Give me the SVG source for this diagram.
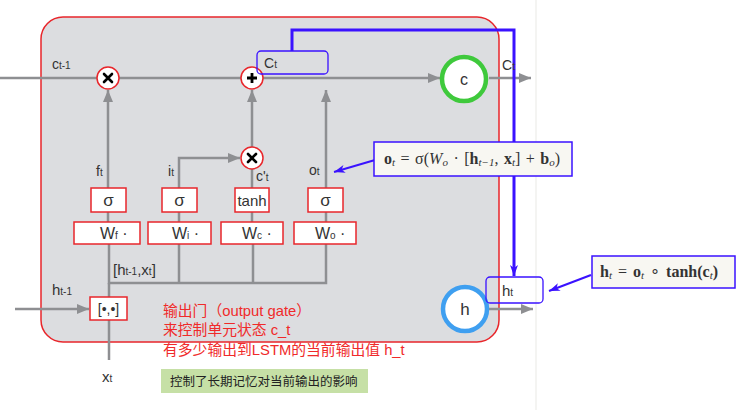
<svg xmlns="http://www.w3.org/2000/svg" width="749" height="410" viewBox="0 0 749 410">
<defs>
<style>
.ln{stroke:#8e8f92;stroke-width:2.5;fill:none}
.bl{stroke:#3a12ff;fill:none}
.gate{fill:#ffffff;stroke:#e8262b;stroke-width:1.5}
.op{fill:#ffffff;stroke:#e8262b;stroke-width:1.5}
.t{font-family:"Liberation Sans",Arial,sans-serif;fill:#333}
.m{font-family:"Liberation Serif","Times New Roman",serif;fill:#333;font-size:16px}
.red{font-family:"Liberation Sans","Noto Sans CJK SC",sans-serif;fill:#f02a2a;font-size:14.8px}
.fbox{fill:#f8f7f2;stroke:#3a12ff;stroke-width:1.5}
</style>
<marker id="ga" markerUnits="userSpaceOnUse" markerWidth="13" markerHeight="13" viewBox="0 0 13 13" refX="12" refY="6.5" orient="auto">
<path d="M0,1.5 L12,6.5 L0,11.5 Z" fill="#8e8f92"/>
</marker>
<marker id="ba" markerUnits="userSpaceOnUse" markerWidth="12" markerHeight="10" viewBox="0 0 12 10" refX="11" refY="5" orient="auto">
<path d="M0,1 L11,5 L0,9 L3,5 Z" fill="#3a12ff"/>
</marker>
</defs>
<rect width="749" height="410" fill="#ffffff"/>
<line x1="536" y1="0" x2="536" y2="410" stroke="#f1f1ee" stroke-width="1.5"/>
<g id="cell">
<rect x="41" y="17" width="458" height="325" rx="22" fill="#dcdde0" stroke="#e8262b" stroke-width="1.5"/>
</g>
<g id="connectors">
<line class="ln" x1="0" y1="78" x2="97" y2="78"/>
<line class="ln" x1="119" y1="78" x2="241" y2="78"/>
<line class="ln" x1="263" y1="78" x2="440" y2="78" marker-end="url(#ga)"/>
<line class="ln" x1="489" y1="78" x2="531" y2="78" marker-end="url(#ga)"/>
<line class="ln" x1="108" y1="188" x2="108" y2="90" marker-end="url(#ga)"/>
<polyline class="ln" points="179,188 179,158 240,158" marker-end="url(#ga)"/>
<line class="ln" x1="252" y1="188" x2="252" y2="169"/>
<line class="ln" x1="252" y1="147" x2="252" y2="90" marker-end="url(#ga)"/>
<line class="ln" x1="326" y1="188" x2="326" y2="90" marker-end="url(#ga)"/>
<line class="ln" x1="108" y1="212" x2="108" y2="222"/>
<line class="ln" x1="179" y1="212" x2="179" y2="222"/>
<line class="ln" x1="252" y1="212" x2="252" y2="222"/>
<line class="ln" x1="326" y1="212" x2="326" y2="222"/>
<polyline class="ln" points="109,244 109,283 326,283 326,244"/>
<line class="ln" x1="179" y1="244" x2="179" y2="283"/>
<line class="ln" x1="253" y1="244" x2="253" y2="283"/>
<line class="ln" x1="109" y1="283" x2="109" y2="297"/>
<line class="ln" x1="109" y1="320" x2="109" y2="360"/>
<line class="ln" x1="15" y1="309" x2="89" y2="309" marker-end="url(#ga)"/>
<line class="ln" x1="489" y1="309" x2="533" y2="309" marker-end="url(#ga)"/>
<polyline class="bl" stroke-width="3" points="292,51 292,30 514,30 514,276" marker-end="url(#ba)"/>
<line class="bl" stroke-width="2" x1="375" y1="160" x2="334" y2="172" marker-end="url(#ba)"/>
<line class="bl" stroke-width="2" x1="591" y1="275" x2="549" y2="291" marker-end="url(#ba)"/>
</g>
<g id="mul-f">
<circle class="op" cx="108" cy="78" r="11"/>
<path d="M104,74 L112,82 M112,74 L104,82" stroke="#000" stroke-width="2.6" stroke-linecap="round"/>
</g>
<g id="add-c">
<circle class="op" cx="252" cy="78" r="11"/>
<path d="M252,73 L252,83 M247,78 L257,78" stroke="#000" stroke-width="2.8"/>
</g>
<g id="mul-i">
<circle class="op" cx="252" cy="158" r="11"/>
<path d="M248,154 L256,162 M256,154 L248,162" stroke="#000" stroke-width="2.6" stroke-linecap="round"/>
</g>
<g id="ct-box">
<rect x="257" y="51" width="71" height="23" rx="4" fill="none" stroke="#3a12ff" stroke-width="1.3"/>
<text class="t" x="264" y="68" font-size="14">C<tspan font-size="10">t</tspan></text>
</g>
<g id="c-node">
<circle cx="464" cy="79" r="22" fill="#ffffff" stroke="#3fc93c" stroke-width="4.5"/>
<text class="t" x="464" y="85" font-size="16" text-anchor="middle">c</text>
</g>
<g id="h-node">
<circle cx="465" cy="309" r="22" fill="#ffffff" stroke="#3f9ff0" stroke-width="4.5"/>
<text class="t" x="465" y="315" font-size="17" text-anchor="middle">h</text>
</g>
<g id="ht-box">
<rect x="486" y="277" width="57" height="26" rx="4" fill="none" stroke="#3a12ff" stroke-width="1.3"/>
<text class="t" x="502" y="296" font-size="15">h<tspan font-size="10">t</tspan></text>
</g>
<g id="gate-f">
<rect class="gate" x="91" y="188" width="35" height="24"/>
<text class="t" x="108.5" y="206" font-size="17" text-anchor="middle">σ</text>
<rect class="gate" x="74" y="222" width="66" height="22"/>
<text class="t" x="100" y="239" font-size="16">W<tspan font-size="10">f</tspan><tspan font-size="16"> ·</tspan></text>
</g>
<g id="gate-i">
<rect class="gate" x="162" y="188" width="35" height="24"/>
<text class="t" x="179.5" y="206" font-size="17" text-anchor="middle">σ</text>
<rect class="gate" x="148" y="222" width="63" height="22"/>
<text class="t" x="172" y="239" font-size="16">W<tspan font-size="10">i</tspan><tspan font-size="16"> ·</tspan></text>
</g>
<g id="gate-c">
<rect class="gate" x="235" y="188" width="34" height="24"/>
<text class="t" x="252" y="206" font-size="15" text-anchor="middle">tanh</text>
<rect class="gate" x="221" y="222" width="62" height="22"/>
<text class="t" x="242" y="239" font-size="16">W<tspan font-size="10">c</tspan><tspan font-size="16"> ·</tspan></text>
</g>
<g id="gate-o">
<rect class="gate" x="308" y="188" width="35" height="24"/>
<text class="t" x="325.5" y="206" font-size="17" text-anchor="middle">σ</text>
<rect class="gate" x="294" y="222" width="62" height="22"/>
<text class="t" x="315" y="239" font-size="16">W<tspan font-size="10">o</tspan><tspan font-size="16"> ·</tspan></text>
</g>
<g id="concat">
<rect class="gate" x="90" y="297" width="37" height="23"/>
<text class="t" x="108.5" y="314" font-size="14" text-anchor="middle">[•,•]</text>
</g>
<g id="labels">
<text class="t" x="52" y="69" font-size="14" fill="#444">c<tspan font-size="10">t-1</tspan></text>
<text class="t" x="502" y="70" font-size="14">C<tspan font-size="10">t</tspan></text>
<text class="t" x="96" y="176" font-size="14">f<tspan font-size="10">t</tspan></text>
<text class="t" x="168" y="176" font-size="14">i<tspan font-size="10">t</tspan></text>
<text class="t" x="256" y="181" font-size="14">c'<tspan font-size="10">t</tspan></text>
<text class="t" x="309" y="175" font-size="14">o<tspan font-size="10">t</tspan></text>
<text class="t" x="113" y="275" font-size="15">[h<tspan font-size="10">t-1</tspan>,x<tspan font-size="10">t</tspan>]</text>
<text class="t" x="52" y="295" font-size="15">h<tspan font-size="10">t-1</tspan></text>
<text class="t" x="102" y="382" font-size="15">x<tspan font-size="10">t</tspan></text>
</g>
<g id="note-red">
<text class="red" x="163" y="316">输出门（output gate）</text>
<text class="red" x="163" y="335">来控制单元状态 c_t</text>
<text class="red" x="163" y="355">有多少输出到LSTM的当前输出值 h_t</text>
</g>
<g id="note-green">
<rect x="161" y="369" width="207" height="24" fill="#c6e0a6"/>
<text x="170" y="386" font-family="'Noto Sans CJK SC',sans-serif" font-size="12.5" fill="#222">控制了长期记忆对当前输出的影响</text>
</g>
<g id="formula-o">
<rect class="fbox" x="374" y="142" width="198" height="34"/>
<text class="m" x="384" y="164" word-spacing="1.5"><tspan font-weight="bold">o</tspan><tspan font-style="italic" font-size="11" dy="2">t</tspan><tspan dy="-2"> = σ(</tspan><tspan font-style="italic">W</tspan><tspan font-style="italic" font-size="11" dy="2">o</tspan><tspan dy="-2"> · [</tspan><tspan font-weight="bold">h</tspan><tspan font-style="italic" font-size="11" dy="2">t−1</tspan><tspan dy="-2">, </tspan><tspan font-weight="bold">x</tspan><tspan font-style="italic" font-size="11" dy="2">t</tspan><tspan dy="-2">] + </tspan><tspan font-weight="bold">b</tspan><tspan font-style="italic" font-size="11" dy="2">o</tspan><tspan dy="-2">)</tspan></text>
</g>
<g id="formula-h">
<rect class="fbox" x="592" y="256" width="143" height="32"/>
<text class="m" x="600" y="277" word-spacing="2"><tspan font-weight="bold">h</tspan><tspan font-style="italic" font-size="11" dy="2">t</tspan><tspan dy="-2"> = </tspan><tspan font-weight="bold">o</tspan><tspan font-style="italic" font-size="11" dy="2">t</tspan><tspan dy="-2"> ∘ </tspan><tspan font-weight="bold">tanh(c</tspan><tspan font-style="italic" font-size="11" dy="2">t</tspan><tspan dy="-2" font-weight="bold">)</tspan></text>
</g>
</svg>
